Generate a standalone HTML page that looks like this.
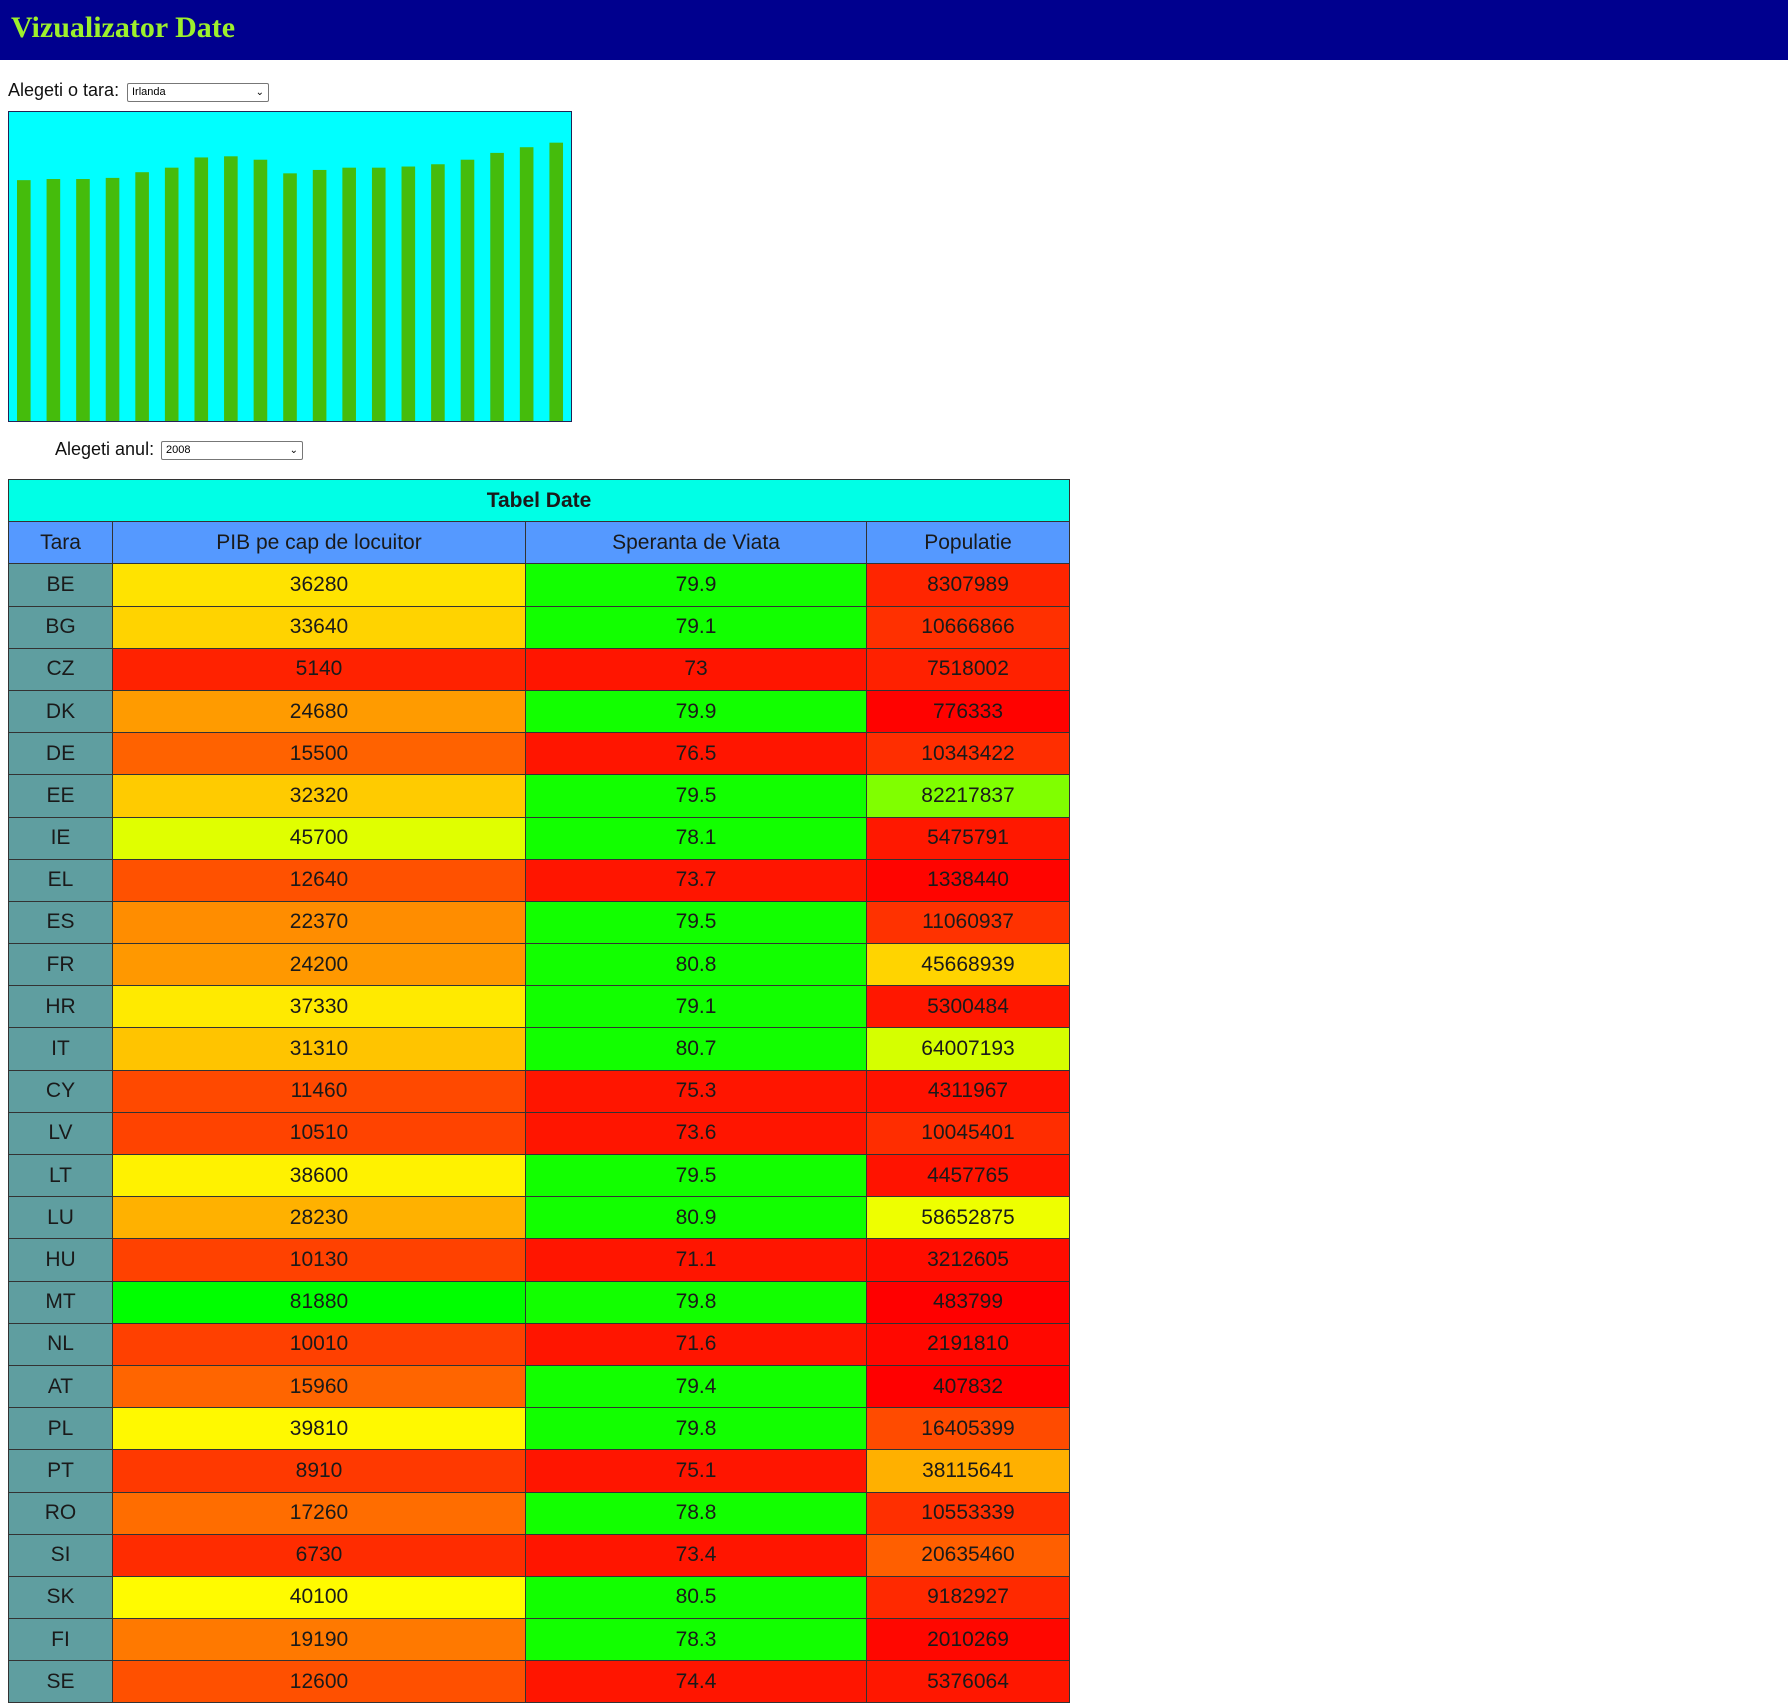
<!DOCTYPE html>
<html><head><meta charset="utf-8">
<style>
body{margin:0;width:1788px;height:1703px;overflow:hidden;background:#fff;font-family:"Liberation Sans",sans-serif;position:relative}
#hdr{position:absolute;left:0;top:0;width:1788px;height:60px;background:#00008e}
#hdr h1{margin:0;position:absolute;left:11px;top:11px;font:bold 30px "Liberation Serif",serif;color:#9df02c}
.lbl{position:absolute;font-size:18px;color:#111}
.sel{position:absolute;height:17px;border:1px solid #777;border-radius:2px;background:#fff;font-size:11px;line-height:17px;padding-left:4px;box-sizing:content-box}
.sel span.ar{position:absolute;right:4px;top:0;font-size:10px}
#chart{position:absolute;left:8px;top:111px;width:562px;height:309px;background:#00ffff;border:1px solid #225;}
#tbl{position:absolute;left:8px;top:479px;border-collapse:collapse;table-layout:fixed;width:1061px}
#tbl td,#tbl th{border:1px solid #333;height:41.2px;padding:0;text-align:center;font-size:21px;color:#1a1a1a;font-weight:normal;line-height:20px}
#tbl th.title{background:#00ffe6;font-weight:bold;font-size:21px}
#tbl tr.head td{background:#5599ff}
#tbl td.tara{background:#5f9ea0}
</style></head><body>
<div id="hdr"><h1>Vizualizator Date</h1></div>
<div class="lbl" style="left:8px;top:80px">Alegeti o tara:</div>
<div class="sel" style="left:127px;top:83px;width:136px">Irlanda<span class="ar">&#8964;</span></div>
<svg id="chart" width="562" height="309"></svg>
<div class="lbl" style="left:55px;top:439px">Alegeti anul:</div>
<div class="sel" style="left:161px;top:441px;width:136px">2008<span class="ar">&#8964;</span></div>
<table id="tbl">
<colgroup><col style="width:104px"><col style="width:413px"><col style="width:341px"><col style="width:203px"></colgroup>
<tr><th class="title" colspan="4">Tabel Date</th></tr>
<tr class="head"><td>Tara</td><td>PIB pe cap de locuitor</td><td>Speranta de Viata</td><td>Populatie</td></tr>
<tbody id="tb"></tbody>
</table>
<script>
const years=["2000","2001","2002","2003","2004","2005","2006","2007","2008","2009","2010","2011","2012","2013","2014","2015","2016","2017","2018"];
const barValues=[212,213,213,214,219,223,232,233,230,218,221,223,223,224,226,230,236,241,245];
const yMax=272;

const countries=["BE","BG","CZ","DK","DE","EE","IE","EL","ES","FR","HR","IT","CY","LV","LT","LU","HU","MT","NL","AT","PL","PT","RO","SI","SK","FI","SE"];
const pib=[36280,33640,5140,24680,15500,32320,45700,12640,22370,24200,37330,31310,11460,10510,38600,28230,10130,81880,10010,15960,39810,8910,17260,6730,40100,19190,12600];
const sv=[79.9,79.1,73,79.9,76.5,79.5,78.1,73.7,79.5,80.8,79.1,80.7,75.3,73.6,79.5,80.9,71.1,79.8,71.6,79.4,79.8,75.1,78.8,73.4,80.5,78.3,74.4];
const pop=[8307989,10666866,7518002,776333,10343422,82217837,5475791,1338440,11060937,45668939,5300484,64007193,4311967,10045401,4457765,58652875,3212605,483799,2191810,407832,16405399,38115641,10553339,20635460,9182927,2010269,5376064];
const svg=document.getElementById('chart');
const W=562,H=309,step=W/barValues.length,bw=step*0.46;
const y=v=>H-v/yMax*H;
const x=i=>8+i*step;
barValues.forEach((v,i)=>{
 const r=document.createElementNS('http://www.w3.org/2000/svg','rect');
 
 
 r.setAttribute('x',x(i));r.setAttribute('width',bw);
 r.setAttribute('y',y(v));r.setAttribute('height',H-y(v));
 r.setAttribute('fill','#45bc0c');svg.appendChild(r);
});
function hue(v,arr,h0,h1){const mn=Math.min(...arr),M=Math.max(...arr);return 'hsl('+(h0+(v-mn)/(M-mn)*(h1-h0))+',100%,50%)';}
const tb=document.getElementById('tb');
countries.forEach((c,i)=>{
 const tr=document.createElement('tr');
 
 
 const svc=sv[i]>=77.5?'#12ff00':'#ff1500';
 tr.innerHTML='<td class="tara">'+c+'</td><td style="background:'+hue(pib[i],pib,8,120)+'">'+pib[i]+'</td><td style="background:'+svc+'">'+sv[i]+'</td><td style="background:'+hue(pop[i],pop,0,90)+'">'+pop[i]+'</td>';
 tb.appendChild(tr);
});
</script>
</body></html>
